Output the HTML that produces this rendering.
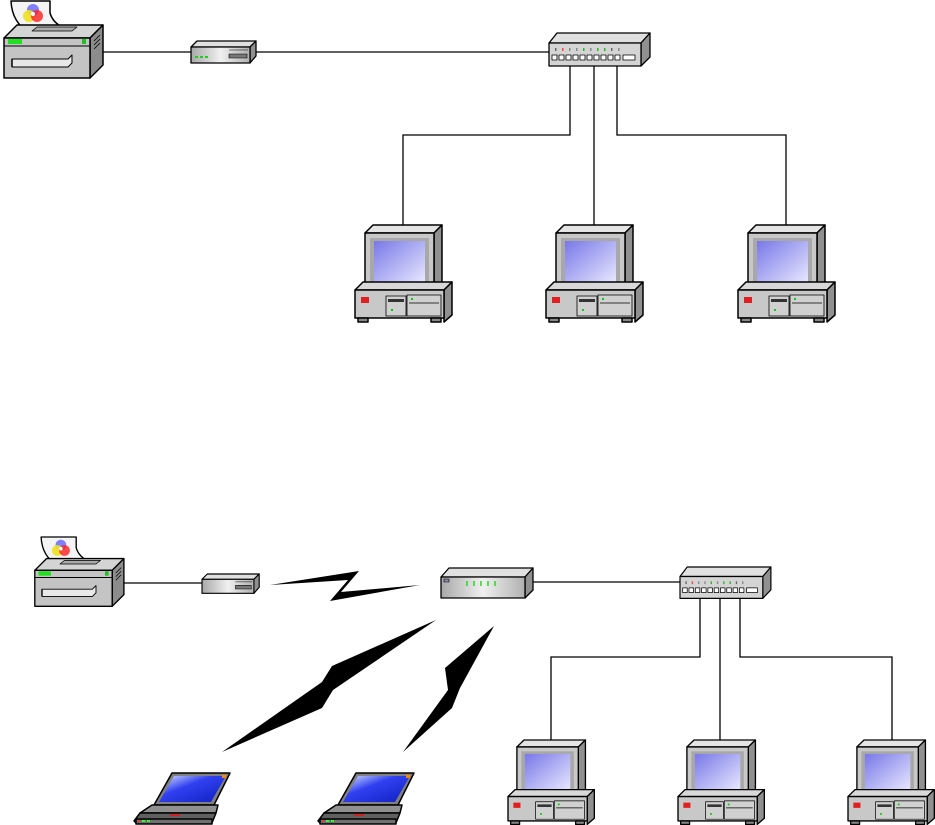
<!DOCTYPE html>
<html><head><meta charset="utf-8"><style>html,body{margin:0;padding:0;background:#fff}svg{display:block}</style></head><body>
<svg width="935" height="825" viewBox="0 0 935 825" xmlns="http://www.w3.org/2000/svg">
<defs>
<linearGradient id="scr" x1="0" y1="0" x2="1" y2="1"><stop offset="0" stop-color="#7878e8"/><stop offset="1" stop-color="#e8e8ff"/></linearGradient>
<linearGradient id="lap" x1="0" y1="0" x2="1" y2="1"><stop offset="0" stop-color="#e0e8ff"/><stop offset="0.4" stop-color="#3040f0"/><stop offset="1" stop-color="#1020c0"/></linearGradient>
<linearGradient id="met" x1="0" y1="0" x2="1" y2="0"><stop offset="0" stop-color="#a8a8a8"/><stop offset="0.5" stop-color="#f0f0f0"/><stop offset="1" stop-color="#b0b0b0"/></linearGradient>
<g id="pc" stroke="#000" stroke-width="1.5" stroke-linejoin="round">
 <polygon points="10,8 18,0 87,0 79,8" fill="#e4e4e4"/>
 <polygon points="79,8 87,0 87,62 79,70" fill="#909090"/>
 <rect x="10" y="8" width="69" height="62" fill="#c8c8c8"/>
 <rect x="15" y="13" width="59" height="51" fill="#a8a8a8" stroke="none"/>
 <rect x="19" y="16" width="51" height="42" fill="url(#scr)" stroke="none"/>
 <rect x="65" y="60" width="4" height="2" fill="#0c0" stroke="none"/>
 <polygon points="0,65 8,57 97,57 89,65" fill="#d8d8d8"/>
 <polygon points="89,65 97,57 97,90 89,97" fill="#909090"/>
 <rect x="0" y="65" width="89" height="28" fill="#c8c8c8"/>
 <rect x="3" y="93" width="10" height="4" fill="#888"/><rect x="76" y="93" width="10" height="4" fill="#888"/>
 <rect x="6" y="72" width="8" height="6" fill="#e02020" stroke="none"/>
 <rect x="31" y="71" width="20" height="20" fill="#d0d0d0" stroke-width="0.8"/>
 <rect x="33" y="74" width="16" height="3" fill="#333" stroke="none"/>
 <rect x="52" y="70" width="34" height="21" fill="#d0d0d0" stroke-width="0.8"/>
 <line x1="54" y1="78" x2="84" y2="78" stroke-width="0.8"/>
 <rect x="56" y="73" width="2" height="2" fill="#0c0" stroke="none"/>
 <rect x="36" y="84" width="2" height="2" fill="#0c0" stroke="none"/>
</g>
<g id="prn" stroke="#000" stroke-width="1.5" stroke-linejoin="round">
 <path d="M9,0 L48,0 L48,12 Q52,26 72,30 L28,32 Q10,22 9,0 Z" fill="#f4f4f4"/>
 <circle cx="31" cy="9" r="6" fill="#8080ff" stroke="none"/>
 <circle cx="27" cy="15" r="6" fill="#f0e020" stroke="none" opacity="0.9"/>
 <circle cx="35" cy="15" r="6" fill="#ff2020" stroke="none" opacity="0.8"/>
 <circle cx="31" cy="13" r="2" fill="#fff" stroke="none"/>
 <polygon points="2,37 15,24 101,24 88,37" fill="#d4d4d4"/>
 <polygon points="30,30 70,30 75,26 35,26" fill="#aaa" stroke-width="0.8"/>
 <polygon points="88,37 101,24 101,64 88,77" fill="#8c8c8c"/>
 <rect x="2" y="37" width="86" height="40" fill="#c4c4c4"/>
 <line x1="2" y1="45" x2="88" y2="45" stroke-width="1"/>
 <rect x="6" y="38" width="14" height="5" fill="#20e020" stroke="none"/>
 <rect x="80" y="38" width="4" height="5" fill="#20c020" stroke="none"/>
 <polygon points="10,58 66,58 70,54 70,62 66,66 10,66" fill="#e8e8e8" stroke-width="1"/>
 <line x1="10" y1="58" x2="10" y2="66"/>
 <line x1="92" y1="40" x2="98" y2="34" stroke-width="0.8"/><line x1="92" y1="44" x2="98" y2="38" stroke-width="0.8"/><line x1="92" y1="48" x2="98" y2="42" stroke-width="0.8"/>
</g>
<g id="mdm" stroke="#000" stroke-width="1.3" stroke-linejoin="round">
 <polygon points="0,6 6,0 65,0 59,6" fill="#e0e0e0"/>
 <polygon points="59,6 65,0 65,15 59,22" fill="#909090"/>
 <rect x="0" y="6" width="59" height="16" fill="url(#met)"/>
 <rect x="38" y="13" width="18" height="4" fill="#777" stroke-width="0.6"/>
 <line x1="38" y1="9" x2="57" y2="9" stroke-width="0.6"/>
</g>
<g id="sw" stroke="#000" stroke-width="1.3" stroke-linejoin="round">
 <polygon points="0,10 8,0 101,0 92,10" fill="#e0e0e0"/>
 <polygon points="92,10 101,0 101,24 92,33" fill="#909090"/>
 <rect x="0" y="10" width="92" height="23" fill="#d4d4d4"/>
 <g stroke="none"><rect x="6" y="15" width="1.5" height="3" fill="#666"/><rect x="13" y="15" width="1.5" height="3" fill="#f44"/><rect x="20" y="15" width="1.5" height="3" fill="#888"/><rect x="27" y="15" width="1.5" height="3" fill="#888"/><rect x="34" y="15" width="1.5" height="3" fill="#2b2"/><rect x="41" y="15" width="1.5" height="3" fill="#888"/><rect x="48" y="15" width="1.5" height="3" fill="#2b2"/><rect x="55" y="15" width="1.5" height="3" fill="#2b2"/><rect x="62" y="15" width="1.5" height="3" fill="#666"/><rect x="69" y="15" width="1.5" height="3" fill="#888"/></g>
 <g fill="#fff" stroke-width="0.8"><rect x="3" y="22" width="5" height="5"/><rect x="10" y="22" width="5" height="5"/><rect x="17" y="22" width="5" height="5"/><rect x="24" y="22" width="5" height="5"/><rect x="31" y="22" width="5" height="5"/><rect x="38" y="22" width="5" height="5"/><rect x="45" y="22" width="5" height="5"/><rect x="52" y="22" width="5" height="5"/><rect x="59" y="22" width="5" height="5"/><rect x="66" y="22" width="5" height="5"/><rect x="74" y="22" width="12" height="5"/></g>
</g>
<g id="lt" stroke="#000" stroke-width="1.5" stroke-linejoin="round">
 <polygon points="20,32 38,0 96,0 80,32" fill="#808080"/>
 <polygon points="25,29 40,3 92,3 77,29" fill="url(#lap)" stroke="none"/>
 <rect x="88" y="2" width="4" height="3" fill="#f80" stroke="none"/>
 <polygon points="6,40 18,32 84,32 82,40" fill="#909090"/>
 <polygon points="0,48 6,40 82,40 78,50 2,50" fill="#606060"/>
 <rect x="2" y="46" width="76" height="5" fill="#707070"/>
 <rect x="4" y="47" width="2" height="2" fill="#f33" stroke="none"/><rect x="8" y="47" width="3" height="2" fill="#3f3" stroke="none"/><rect x="13" y="47" width="3" height="2" fill="#3f3" stroke="none"/>
 <rect x="36" y="41" width="10" height="2" fill="#c22" stroke="none"/>
</g>
</defs>

<g stroke="#000" stroke-width="1.3" fill="none">
 <line x1="102" y1="52" x2="192" y2="52"/>
 <line x1="255" y1="52" x2="549" y2="52"/>
 <polyline points="570,66 570,135 403,135 403,225"/>
 <line x1="594" y1="66" x2="594" y2="225"/>
 <polyline points="617,66 617,135 786,135 786,225"/>
</g>
<use href="#prn" x="2" y="1"/>
<use href="#mdm" x="191" y="41"/>
<g fill="#2c2"><rect x="195" y="56" width="3" height="2"/><rect x="200" y="56" width="3" height="2"/><rect x="205" y="56" width="3" height="2"/></g>
<use href="#sw" x="549" y="33"/>
<use href="#pc" x="355" y="225"/>
<use href="#pc" x="546" y="225"/>
<use href="#pc" x="738" y="225"/>

<g stroke="#000" stroke-width="1.3" fill="none">
 <line x1="122" y1="583" x2="202" y2="583"/>
 <line x1="532" y1="582" x2="680" y2="582"/>
 <polyline points="700,597 700,657 551,657 551,740"/>
 <line x1="720" y1="597" x2="720" y2="740"/>
 <polyline points="740,597 740,657 892,657 892,740"/>
</g>
<g transform="translate(33,537) scale(0.9)"><use href="#prn"/></g>
<g transform="translate(202,574) scale(0.88,0.88)"><use href="#mdm"/></g>
<g transform="translate(680,567) scale(0.9,0.95)"><use href="#sw"/></g>
<g stroke="#000" stroke-width="1.3" stroke-linejoin="round">
 <polygon points="441,577 449,568 533,568 525,577" fill="#e0e0e0"/>
 <polygon points="525,577 533,568 533,590 525,598" fill="#909090"/>
 <path d="M441,577 L525,577 L525,598 L441,598 Z" fill="url(#met)"/>
 <rect x="444" y="579" width="5" height="3" fill="#88a" stroke-width="0.6"/>
 <g stroke="#2d2" stroke-width="1.5"><line x1="467" y1="581" x2="467" y2="586"/><line x1="474" y1="581" x2="474" y2="586"/><line x1="481" y1="581" x2="481" y2="586"/><line x1="488" y1="581" x2="488" y2="586"/><line x1="495" y1="581" x2="495" y2="586"/></g>
</g>
<g fill="#000">
 <polygon points="270,585 359,571 341,592 420,585 330,601 348,580"/>
 <polygon points="436,620 332,666 322,682 222,752 322,708 333,690"/>
 <polygon points="494,626 445,668 448,690 403,752 452,708 460,688"/>
</g>
<g transform="translate(508,740) scale(0.89,0.87)"><use href="#pc"/></g>
<g transform="translate(678,740) scale(0.89,0.87)"><use href="#pc"/></g>
<g transform="translate(848,740) scale(0.89,0.87)"><use href="#pc"/></g>
<use href="#lt" x="134" y="773"/>
<use href="#lt" x="318" y="773"/>
</svg>
</body></html>
